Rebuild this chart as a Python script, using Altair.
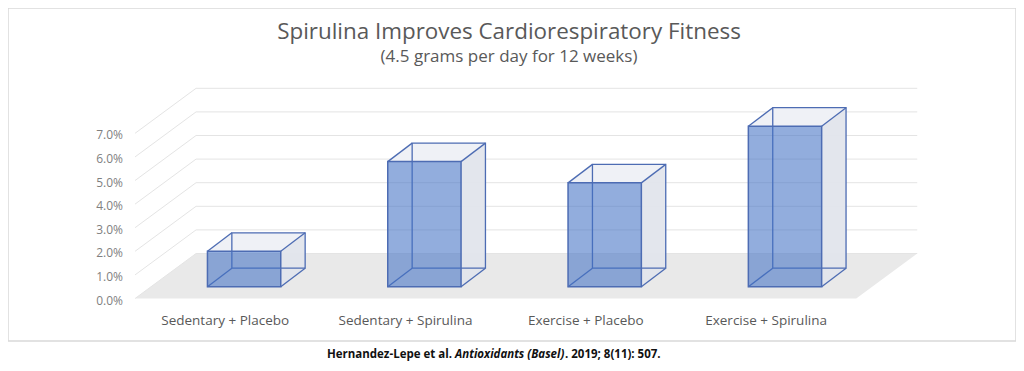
import altair as alt
import pandas as pd

# ---------------- data ----------------
categories = ["Sedentary + Placebo", "Sedentary + Spirulina", "Exercise + Placebo", "Exercise + Spirulina"]
values = [0.015, 0.053, 0.044, 0.068]
y_ticks = [0.0, 0.01, 0.02, 0.03, 0.04, 0.05, 0.06, 0.07]
y_tick_labels = ["0.0%", "1.0%", "2.0%", "3.0%", "4.0%", "5.0%", "6.0%", "7.0%"]
title_text = "Spirulina Improves Cardiorespiratory Fitness"
subtitle_text = "(4.5 grams per day for 12 weeks)"
cite_parts = ["Hernandez-Lepe et al.", "Antioxidants (Basel)", ". 2019; 8(11): 507."]

# ---------------- layout (pixels) ----------------
W, H = 1008, 333
PX_PER_CAT = 180.3
PX_PER_UNIT = 2360.0          # 23.6 px per 1 %
ZERO_X_PX = 217.2             # view x of first category (front centre)
ZERO_Y_PX = 290.5             # view y of the front floor edge

x_dom = [-ZERO_X_PX / PX_PER_CAT, (W - ZERO_X_PX) / PX_PER_CAT]
y_dom = [(ZERO_Y_PX - H) / PX_PER_UNIT, ZERO_Y_PX / PX_PER_UNIT]

FLOOR_DX = 61 / PX_PER_CAT
FLOOR_DY = 45 / PX_PER_UNIT
BAR_OFF_X = 18.9 / PX_PER_CAT
BAR_OFF_Y = 11.8 / PX_PER_UNIT
BAR_HALF = 36.65 / PX_PER_CAT
BAR_DX = 24.4 / PX_PER_CAT
BAR_DY = 18.5 / PX_PER_UNIT

EDGE = "#4d6cb3"
FONT = "Open Sans"

xs = alt.Scale(domain=x_dom, nice=False, zero=False)
ys = alt.Scale(domain=y_dom, nice=False, zero=False)

n = len(categories)
left_edge, right_edge = -0.5, n - 0.5

# floor parallelogram
floor_df = pd.DataFrame({
    "x": [left_edge, left_edge + FLOOR_DX, right_edge, right_edge + FLOOR_DX],
    "y": [0, 0, 0, FLOOR_DY],
    "y2": [0, FLOOR_DY, FLOOR_DY, FLOOR_DY],
})

# gridlines on the walls
grid_rows = []
for t in y_ticks:
    grid_rows.append({"x": left_edge, "y": t, "x2": left_edge + FLOOR_DX, "y2": t + FLOOR_DY})
    grid_rows.append({"x": left_edge + FLOOR_DX, "y": t + FLOOR_DY, "x2": right_edge + FLOOR_DX, "y2": t + FLOOR_DY})
grid_df = pd.DataFrame(grid_rows)
tick_df = pd.DataFrame({"t": y_ticks, "lab": y_tick_labels})

# boxes
bar_rows, side_rows, top_rows, edge_rows = [], [], [], []
for i, (c, v) in enumerate(zip(categories, values)):
    L = i + BAR_OFF_X - BAR_HALF
    R = i + BAR_OFF_X + BAR_HALF
    B = BAR_OFF_Y
    T = BAR_OFF_Y + v
    bar_rows.append({"cat": c, "value": v, "L": L, "R": R, "B": B, "T": T,
                     "bL": L + BAR_DX, "bR": R + BAR_DX, "bB": B + BAR_DY, "bT": T + BAR_DY})
    side_rows += [{"cat": c, "x": R, "y": B, "y2": T},
                  {"cat": c, "x": R + BAR_DX, "y": B + BAR_DY, "y2": T + BAR_DY}]
    top_rows += [{"cat": c, "y": T, "x": L, "x2": R},
                 {"cat": c, "y": T + BAR_DY, "x": L + BAR_DX, "x2": R + BAR_DX}]
    for (px, py) in [(L, T), (R, T), (R, B), (L, B)]:
        edge_rows.append({"cat": c, "x": px, "y": py, "x2": px + BAR_DX, "y2": py + BAR_DY})
bars_df = pd.DataFrame(bar_rows)
side_df = pd.DataFrame(side_rows)
top_df = pd.DataFrame(top_rows)
edge_df = pd.DataFrame(edge_rows)
label_df = pd.DataFrame({"cat": categories, "x": list(range(n))})


def X(f):
    return alt.X(f, scale=xs, axis=None)


def Y(f):
    return alt.Y(f, scale=ys, axis=None)


floor = alt.Chart(floor_df).mark_area(color="#e9e9e9", orient="vertical").encode(
    x=X("x:Q"), y=Y("y:Q"), y2="y2:Q")

grid = alt.Chart(grid_df).mark_rule(color="#e4e4e4", strokeWidth=1).encode(
    x=X("x:Q"), y=Y("y:Q"), x2="x2:Q", y2="y2:Q")

ticklabels = alt.Chart(tick_df).mark_text(
    font=FONT, fontSize=12, color="#7f7f7f", align="right", baseline="middle", dy=2).encode(
    x=alt.value(115), y=Y("t:Q"), text="lab:N")

side = alt.Chart(side_df).mark_area(color="#e2e5ec", orient="vertical", opacity=0.95).encode(
    x=X("x:Q"), y=Y("y:Q"), y2="y2:Q", detail="cat:N")

top = alt.Chart(top_df).mark_area(color="#eef0f5", orient="horizontal", opacity=0.95).encode(
    y=Y("y:Q"), x=X("x:Q"), x2="x2:Q", detail="cat:N")

back = alt.Chart(bars_df).mark_rect(fillOpacity=0, stroke=EDGE, strokeWidth=1.3).encode(
    x=X("bL:Q"), x2="bR:Q", y=Y("bB:Q"), y2="bT:Q")

edges = alt.Chart(edge_df).mark_rule(color=EDGE, strokeWidth=1.3).encode(
    x=X("x:Q"), y=Y("y:Q"), x2="x2:Q", y2="y2:Q")

front = alt.Chart(bars_df).mark_rect(fill="#4472c4", fillOpacity=0.58, stroke=EDGE, strokeWidth=1.5).encode(
    x=X("L:Q"), x2="R:Q", y=Y("B:Q"), y2="T:Q",
    tooltip=[alt.Tooltip("cat:N"), alt.Tooltip("value:Q", format=".1%")])

labels = alt.Chart(label_df).mark_text(font=FONT, fontSize=13.5, color="#595959", baseline="middle").encode(
    x=X("x:Q"), y=alt.value(313), text="cat:N")

title = alt.Chart(pd.DataFrame({"t": [title_text]})).mark_text(
    font=FONT, fontSize=22.4, color="#595959", baseline="middle").encode(
    x=alt.value(501), y=alt.value(24), text="t:N")

subtitle = alt.Chart(pd.DataFrame({"t": [subtitle_text]})).mark_text(
    font=FONT, fontSize=17, color="#595959", baseline="middle").encode(
    x=alt.value(501), y=alt.value(49), text="t:N")

CITE_Y = 347
cite1 = alt.Chart(pd.DataFrame({"t": [cite_parts[0]]})).mark_text(
    font=FONT, fontSize=11.5, fontWeight="bold", color="#111111", align="right", baseline="middle").encode(
    x=alt.value(444), y=alt.value(CITE_Y), text="t:N")
cite2 = alt.Chart(pd.DataFrame({"t": [cite_parts[1]]})).mark_text(
    font=FONT, fontSize=11.5, fontWeight="bold", fontStyle="italic", color="#111111", align="left",
    baseline="middle").encode(
    x=alt.value(447), y=alt.value(CITE_Y), text="t:N")
cite3 = alt.Chart(pd.DataFrame({"t": [cite_parts[2]]})).mark_text(
    font=FONT, fontSize=11.5, fontWeight="bold", color="#111111", align="left", baseline="middle").encode(
    x=alt.value(557), y=alt.value(CITE_Y), text="t:N")

chart = alt.layer(
    floor, grid, ticklabels, side, top, back, edges, front, labels, title, subtitle, cite1, cite2, cite3
).properties(
    width=W, height=H,
    autosize=alt.AutoSizeParams(type="none"),
    padding={"left": 0, "top": 0, "right": 0, "bottom": 22},
    background="white",
).configure_view(stroke="#d9d9d9", strokeWidth=1.5)

chart.save("out.html", embed_options={"renderer": "svg", "actions": False})
